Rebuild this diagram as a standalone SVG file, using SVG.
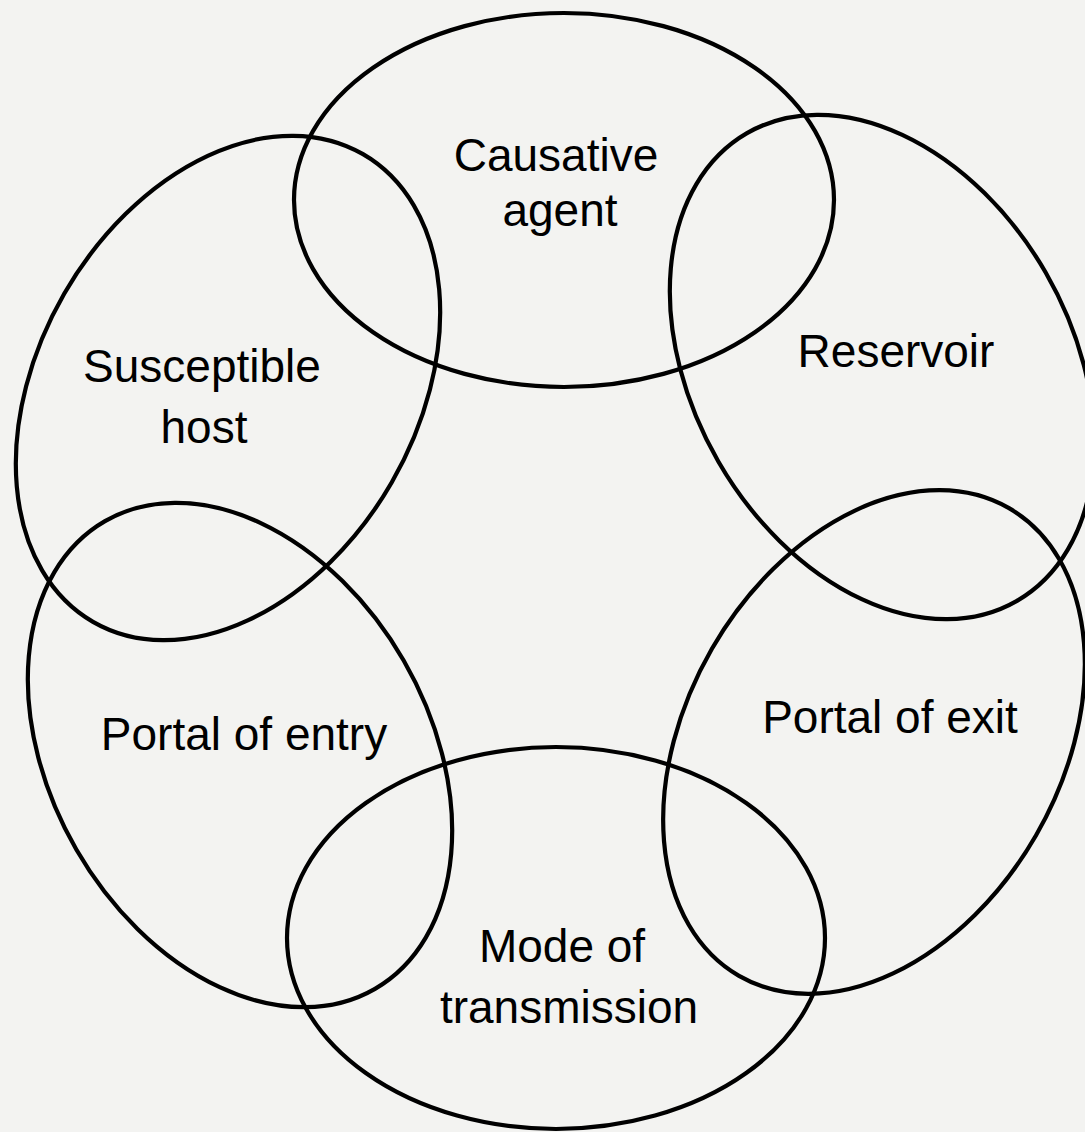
<svg xmlns="http://www.w3.org/2000/svg" width="1085" height="1132" viewBox="0 0 1085 1132">
<style>
.ring{fill:none;stroke:#000;stroke-width:4.2}
.lbl{font-family:"Liberation Sans",Arial,sans-serif;font-size:46px;fill:#000;text-anchor:middle}
</style>
<rect width="1085" height="1132" fill="#f3f3f1"/>
<g id="causative-agent">
<ellipse class="ring" cx="564" cy="200" rx="270" ry="187"/>
<text class="lbl" x="556" y="171">Causative</text>
<text class="lbl" x="560" y="226">agent</text>
</g>
<g id="reservoir">
<ellipse class="ring" cx="882" cy="367" rx="270" ry="189" transform="rotate(60 882 367)"/>
<text class="lbl" x="896" y="367">Reservoir</text>
</g>
<g id="portal-of-exit">
<ellipse class="ring" cx="874" cy="742" rx="270" ry="187" transform="rotate(-60 874 742)"/>
<text class="lbl" x="890" y="733">Portal of exit</text>
</g>
<g id="mode-of-transmission">
<ellipse class="ring" cx="556" cy="938" rx="269" ry="191"/>
<text class="lbl" x="562" y="962">Mode of</text>
<text class="lbl" x="569" y="1023">transmission</text>
</g>
<g id="portal-of-entry">
<ellipse class="ring" cx="240" cy="755" rx="270" ry="189" transform="rotate(60 240 755)"/>
<text class="lbl" x="244" y="750">Portal of entry</text>
</g>
<g id="susceptible-host">
<ellipse class="ring" cx="228" cy="388" rx="270" ry="189" transform="rotate(-60 228 388)"/>
<text class="lbl" x="202" y="382">Susceptible</text>
<text class="lbl" x="204" y="443">host</text>
</g>
<g id="connectors"></g>
</svg>
